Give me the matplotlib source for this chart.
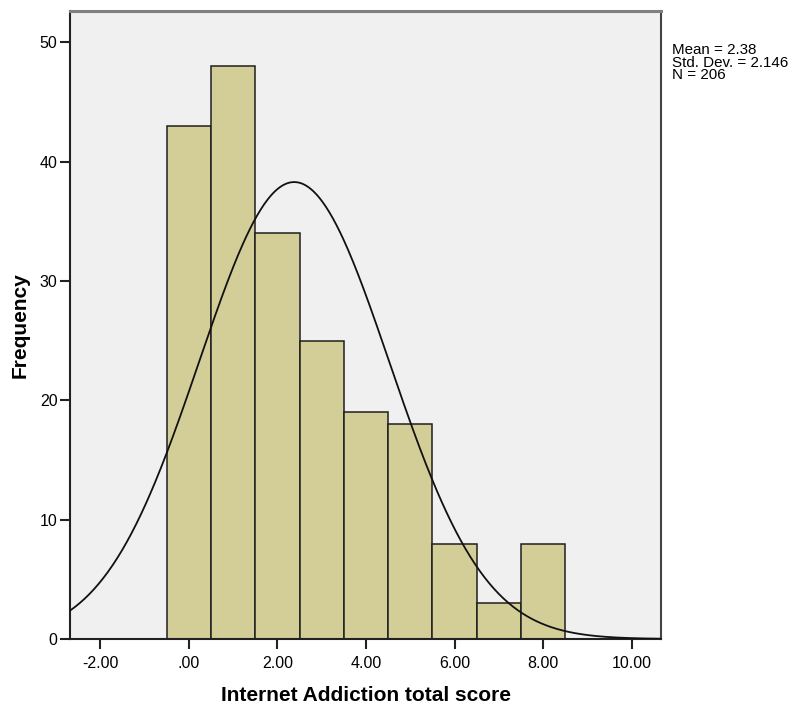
"""SPSS-style histogram of Internet Addiction total score"""
import numpy as np
from matplotlib import pyplot as plt

# bin centres (width 1) and frequencies
scores = [0, 1, 2, 3, 4, 5, 6, 7, 8]
freqs = [43, 48, 34, 25, 19, 18, 8, 3, 8]

mean = 2.38
std_dev = 2.146
n_total = 206
bin_width = 1.0

x_ticks = [-2, 0, 2, 4, 6, 8, 10]
x_tick_labels = ['-2.00', '.00', '2.00', '4.00', '6.00', '8.00', '10.00']
y_ticks = [0, 10, 20, 30, 40, 50]

plt.rcParams['font.family'] = ['Liberation Sans', 'DejaVu Sans']

fig = plt.figure(figsize=(8, 7.11), dpi=100)
ax = fig.add_axes([0.0875, 0.1013, 0.7388, 0.8837])
ax.set_facecolor('#f0f0f0')

ax.bar(scores, freqs, width=bin_width, color='#d3ce97', edgecolor='#1e1e1e',
       linewidth=1.1, zorder=2)

# normal curve scaled to counts
xmin, xmax = -2.68, 10.66
xs = np.linspace(xmin, xmax, 500)
curve = n_total * bin_width / (std_dev * np.sqrt(2 * np.pi)) * np.exp(-0.5 * ((xs - mean) / std_dev) ** 2)
ax.plot(xs, curve, color='#111111', linewidth=1.3, zorder=3)

ax.set_xlim(xmin, xmax)
ax.set_ylim(0, 52.66)
ax.set_xticks(x_ticks)
ax.set_xticklabels(x_tick_labels)
ax.set_yticks(y_ticks)
ax.tick_params(axis='both', labelsize=11.5, length=7, width=1.5, color='#222222')
ax.tick_params(axis='x', pad=5)
ax.tick_params(axis='y', pad=2)

for side in ['left', 'bottom']:
    ax.spines[side].set_color('#222222')
    ax.spines[side].set_linewidth(1.5)
ax.spines['top'].set_color('#808080')
ax.spines['top'].set_linewidth(2.2)
ax.spines['right'].set_color('#444444')
ax.spines['right'].set_linewidth(1.5)

ax.set_xlabel('Internet Addiction total score', fontsize=15, fontweight='bold', labelpad=11)
ax.set_ylabel('Frequency', fontsize=15, fontweight='bold', labelpad=7)

fig.text(672 / 800, 1 - 43 / 711,
         f'Mean = {mean}\nStd. Dev. = {std_dev}\nN = {n_total}',
         fontsize=10.9, va='top', ha='left', linespacing=0.88)

fig.savefig('out.png', dpi=100)
